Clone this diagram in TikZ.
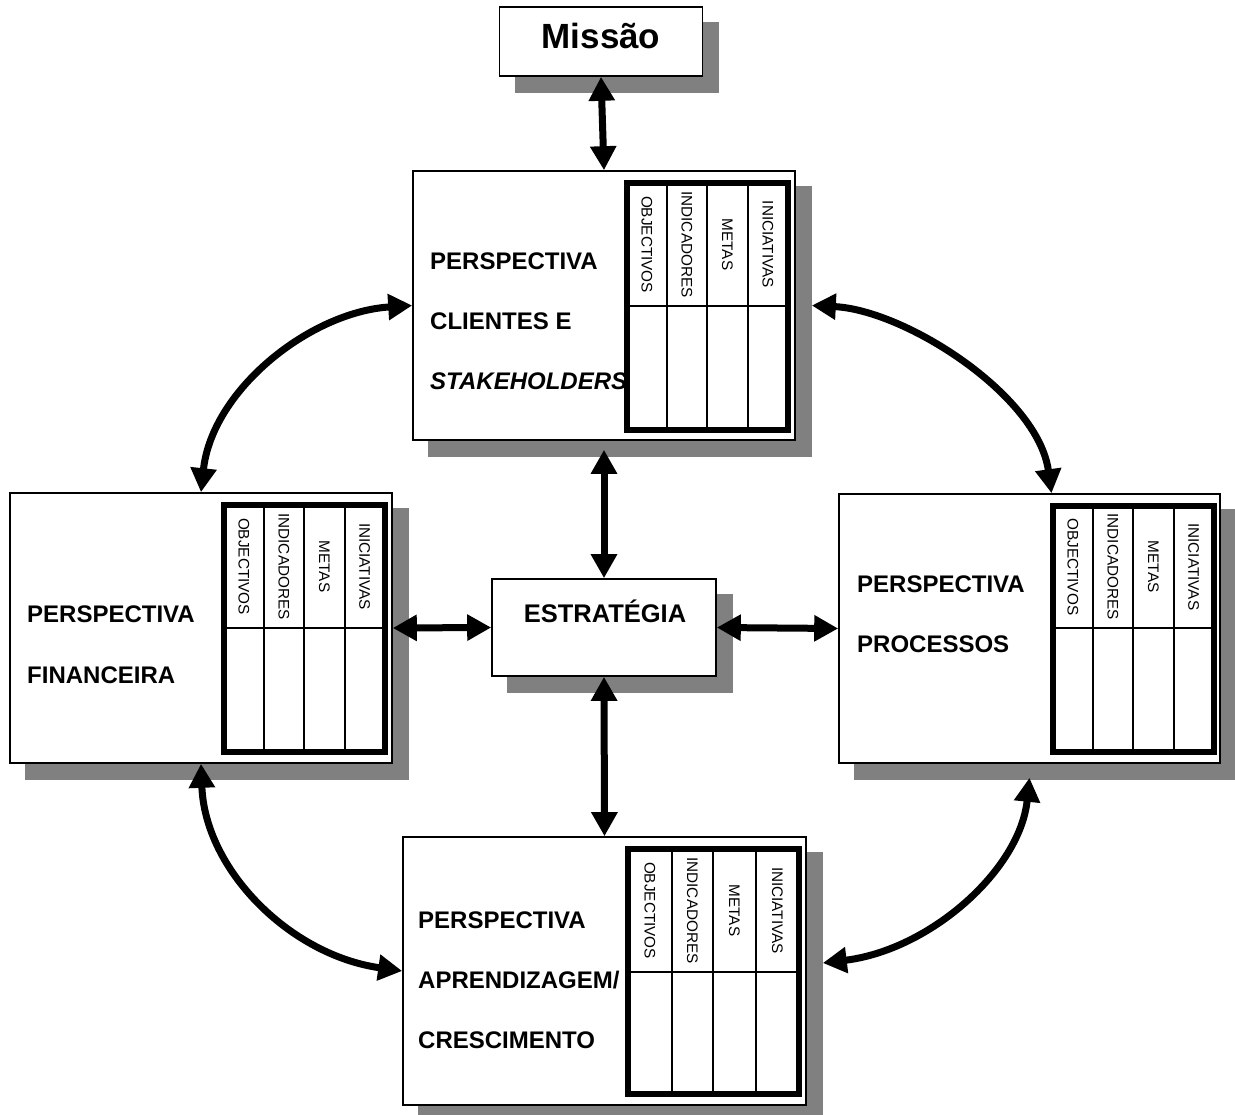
\documentclass[tikz,border=0pt]{standalone}
\usepackage{fontspec}
\setmainfont{Liberation Sans}
\usetikzlibrary{arrows.meta,backgrounds}
\definecolor{shadowgray}{RGB}{128,128,128}

\tikzset{
  panel/.style={draw=black, line width=1.6pt, fill=white, inner sep=0pt},
  ptitle/.style={font=\fontsize{24}{28}\selectfont\bfseries, anchor=base west, inner sep=0pt},
  colhead/.style={font=\fontsize{15.3}{17}\selectfont, rotate=-90, inner sep=0pt},
  tabouter/.style={line width=6pt},
  tabinner/.style={line width=2pt},
  link/.style={line width=7pt,
    {Triangle[length=24pt,width=25pt]}-{Triangle[length=24pt,width=25pt]}},
}

% grey drop shadow below and right of a named box
\newcommand{\boxshadow}[1]{%
  \fill[shadowgray] ([shift={(16pt,-16pt)}]#1.south west)
    rectangle ([shift={(16pt,-16pt)}]#1.north east);}

% indicator table: name, left, top, right, bottom, header line, three column dividers
\newcommand{\bsctable}[9]{%
  \filldraw[fill=white, tabouter] (#2,#3) rectangle (#4,#5);
  \draw[tabinner] (#2,#6) -- (#4,#6);
  \draw[tabinner] (#7,#3) -- (#7,#5);
  \draw[tabinner] (#8,#3) -- (#8,#5);
  \draw[tabinner] (#9,#3) -- (#9,#5);
  \draw[tabouter] (#2,#3) rectangle (#4,#5);
  \node[colhead] (#1-obj) at ({(#2+#7)/2},{(#3+#6)/2}) {OBJECTIVOS};
  \node[colhead] (#1-ind) at ({(#7+#8)/2},{(#3+#6)/2}) {INDICADORES};
  \node[colhead] (#1-met) at ({(#8+#9)/2},{(#3+#6)/2}) {METAS};
  \node[colhead] (#1-ini) at ({(#9+#4)/2},{(#3+#6)/2}) {INICIATIVAS};
}

\begin{document}
\begin{tikzpicture}[x=1pt, y=-1pt]
\useasboundingbox (0,0) rectangle (1235,1115);

% boxes
\node[panel, minimum width=203pt, minimum height=69pt] (missao) at (601,41.5) {};
\node[panel, minimum width=382pt, minimum height=269pt] (clientes) at (604,305.5) {};
\node[panel, minimum width=382pt, minimum height=270pt] (financeira) at (201,628) {};
\node[panel, minimum width=381pt, minimum height=269pt] (processos) at (1029.5,628.5) {};
\node[panel, minimum width=403pt, minimum height=268pt] (aprend) at (604.5,971) {};
\node[panel, minimum width=224pt, minimum height=97pt] (estrategia) at (604,627.5) {};

\begin{scope}[on background layer]
  \boxshadow{missao}
  \boxshadow{clientes}
  \boxshadow{financeira}
  \boxshadow{processos}
  \boxshadow{aprend}
  \boxshadow{estrategia}
\end{scope}

% titles
\node[font=\fontsize{35}{40}\selectfont\bfseries, anchor=base, inner sep=0pt] (missao-t) at (601,49) {Missão};
\node[ptitle, font=\fontsize{25.5}{30}\selectfont\bfseries, anchor=base] (estrategia-t) at (605,622) {ESTRATÉGIA};

\node[ptitle] (clientes-t1) at (430,270) {PERSPECTIVA};
\node[ptitle] (clientes-t2) at (430,330) {CLIENTES E};
\node[ptitle, font=\fontsize{24}{28}\selectfont\bfseries\itshape] (clientes-t3) at (430,390) {STAKEHOLDERS};

\node[ptitle] (financeira-t1) at (27,622) {PERSPECTIVA};
\node[ptitle] (financeira-t2) at (27,683) {FINANCEIRA};

\node[ptitle] (processos-t1) at (857,592) {PERSPECTIVA};
\node[ptitle] (processos-t2) at (857,652) {PROCESSOS};

\node[ptitle] (aprend-t1) at (418,928) {PERSPECTIVA};
\node[ptitle] (aprend-t2) at (418,988) {APRENDIZAGEM/};
\node[ptitle] (aprend-t3) at (418,1048) {CRESCIMENTO};

% indicator tables
\bsctable{tc}{627}{183}{788}{430}{306}{667}{707}{748}
\bsctable{tf}{224}{505}{384.5}{752}{628}{264}{304}{345}
\bsctable{tp}{1053}{505.5}{1213.5}{752}{628}{1093}{1133}{1174}
\bsctable{ta}{628}{849}{799}{1094}{972}{672}{713}{756}

% straight links
\draw[link] (missao.south) -- (clientes.north);
\draw[link] ([yshift=-9pt]clientes.south) -- (estrategia.north);
\draw[link] (estrategia.south) -- (aprend.north);
\draw[link] (financeira.east) -- (estrategia.west);
\draw[link] (estrategia.east) -- (processos.west);

% curved links between perspectives
\draw[link] (financeira.north) .. controls (212,390) and (310,312) .. (clientes.west);
\draw[link] ([xshift=16pt]clientes.east) .. controls (905,310) and (1038,395) .. ([xshift=22pt]processos.north);
\draw[link] (financeira.south) .. controls (205,870) and (290,955) .. (aprend.west);
\draw[link] ([yshift=-14pt]processos.south) .. controls (1020,870) and (930,950) .. ([xshift=16pt,yshift=8pt]aprend.east);
\end{tikzpicture}
\end{document}
